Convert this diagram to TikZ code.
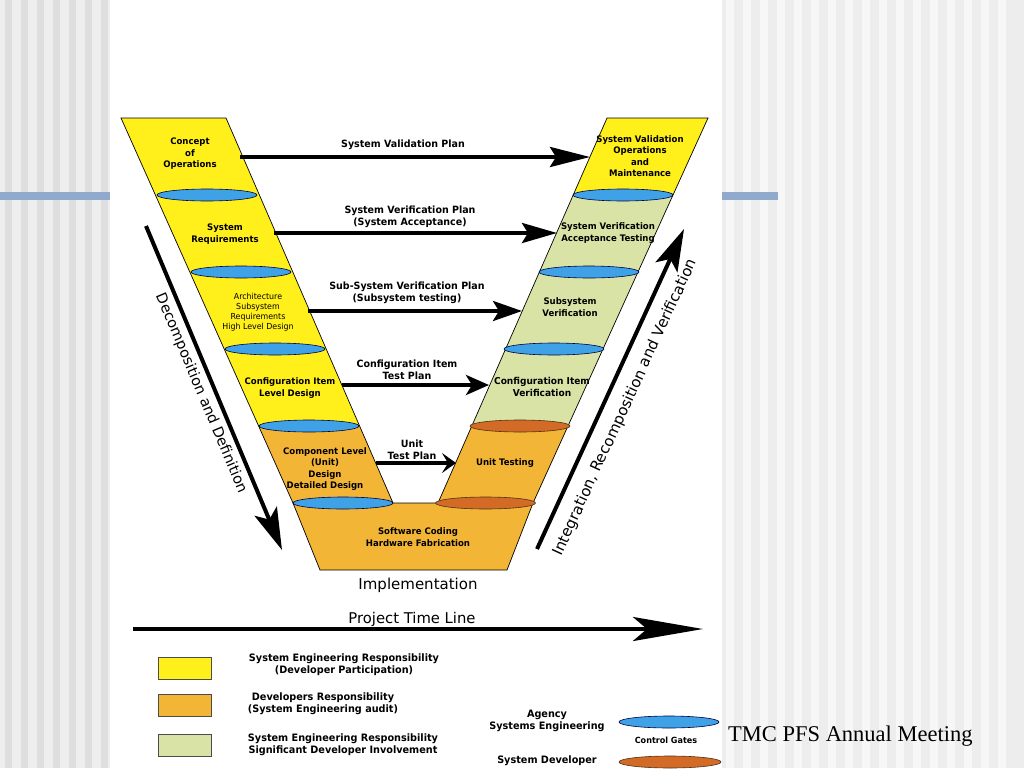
\documentclass[tikz,border=0pt]{standalone}
\usepackage{fontspec}
\setmainfont{Liberation Serif}
\setsansfont{DejaVu Sans}
\newfontfamily\labfont[FakeStretch=0.95]{DejaVu Sans}
\usetikzlibrary{arrows.meta}
\definecolor{vyellow}{HTML}{FFEF1A}
\definecolor{vorange}{HTML}{F2B535}
\definecolor{vgreen}{HTML}{D8E3A5}
\definecolor{gateblue}{HTML}{3FA2E6}
\definecolor{gatebrown}{HTML}{D36A25}
\definecolor{barblue}{HTML}{8FAACC}
\definecolor{stripedark}{HTML}{DEDEDE}
\definecolor{stripelight}{HTML}{EEEEEE}

\begin{document}
\begin{tikzpicture}[x=1pt,y=-1pt,
every node/.style={font=\labfont\bfseries\fontsize{9}{11.5}\selectfont, align=center, inner sep=1pt},
plantext/.style={font=\labfont\bfseries\fontsize{10}{12.5}\selectfont},
keytext/.style={font=\labfont\bfseries\fontsize{10.2}{12}\selectfont},
gate/.style={draw=black!75!blue, line width=0.6pt, fill=gateblue},
devgate/.style={draw=black!60!brown, line width=0.6pt, fill=gatebrown},
arm/.style={draw=black, line width=0.7pt},
plan/.style={line width=4pt, -{Stealth[length=#1,width=20pt,inset=6pt]}},
bigarrow/.style={line width=4pt, -{Stealth[length=42pt,width=24pt,inset=9pt]}},
side/.style={font=\sffamily\fontsize{#1}{16}\selectfont, sloped},
key/.style={draw=black!70, line width=0.8pt, minimum width=53pt, minimum height=22pt, inner sep=0pt}]
\useasboundingbox (0,0) rectangle (1024,768);
\fill[stripelight] (0,0) rectangle (110,768);
\foreach \x in {0,16,...,96} \fill[stripedark] (\x+5,0) rectangle (\x+12,768);
\fill[white!93!black] (722,0) rectangle (1024,768);
\foreach \x in {722,739,...,1010} \fill[white!97!black] (\x+4,0) rectangle (\x+12,768);
\fill[white] (110,0) rectangle (722,768);
\fill[barblue] (0,192) rectangle (110,200);
\fill[barblue] (722,192) rectangle (778,200);

\begin{scope}
\clip (121,118) -- (226,118) -- (393,503) -- (293,503) -- cycle;
\fill[vyellow] (100,110) rectangle (420,426);
\fill[vorange] (100,426) rectangle (420,510);
\end{scope}
\draw[arm] (121,118) -- (226,118) -- (393,503) -- (293,503) -- cycle;
\begin{scope}
\clip (607,118) -- (708,118) -- (533,503) -- (438,503) -- cycle;
\fill[vyellow] (430,110) rectangle (720,195);
\fill[vgreen] (430,195) rectangle (720,426);
\fill[vorange] (430,426) rectangle (720,510);
\end{scope}
\draw[arm] (607,118) -- (708,118) -- (533,503) -- (438,503) -- cycle;
\draw[arm, fill=vorange] (293,503) -- (533,503) -- (507,570) -- (320,570) -- cycle;

\foreach \x/\y in {207/195, 241/272, 275/349, 309/426, 343/503, 623/195, 589/272, 554/349}
  \draw[gate] (\x,\y) ellipse [x radius=50pt, y radius=6pt];
\foreach \x/\y in {520/426, 485.5/503}
  \draw[devgate] (\x,\y) ellipse [x radius=50pt, y radius=6pt];

\node (conops) at (190,154) {Concept\\of\\Operations};
\node (sysreq) at (225,234) {System\\Requirements};
\node[font=\labfont\fontsize{8.3}{10}\selectfont] (arch) at (258,312) {Architecture\\Subsystem\\Requirements\\High Level Design};
\node (cidesign) at (290,388) {Configuration Item\\Level Design};
\node (unitdesign) at (325,469) {Component Level\\(Unit)\\Design\\Detailed Design};
\node (coding) at (418,537) {Software Coding\\Hardware Fabrication};
\node (unittest) at (505,463) {Unit Testing};
\node[font=\labfont\bfseries\fontsize{9.5}{11.5}\selectfont] (civerif) at (542,387) {Configuration Item\\Verification};
\node (subverif) at (570,307) {Subsystem\\Verification};
\node (sysverif) at (608,233) {System Verification\\Acceptance Testing};
\node (sysvalid) at (640,156) {System Validation\\Operations\\and\\Maintenance};

\coordinate (a1) at (240,157); \coordinate (b1) at (590,157);
\coordinate (a2) at (274,233); \coordinate (b2) at (557,233);
\coordinate (a3) at (308,311); \coordinate (b3) at (522,311);
\coordinate (a4) at (342,385); \coordinate (b4) at (489,385);
\coordinate (a5) at (376,463); \coordinate (b5) at (456,463);
\draw[plan=40pt] (a1) -- (b1);
\draw[plan=35pt] (a2) -- (b2);
\draw[plan=29pt] (a3) -- (b3);
\draw[plan=23pt] (a4) -- (b4);
\draw[plan=14pt] (a5) -- (b5);
\node[plantext] (valplan) at (403,145) {System Validation Plan};
\node[plantext] (verplan) at (410,217) {System Verification Plan\\(System Acceptance)};
\node[plantext] (subplan) at (407,293) {Sub-System Verification Plan\\(Subsystem testing)};
\node[plantext] (ciplan) at (407,370) {Configuration Item\\Test Plan};
\node[plantext] (unitplan) at (412,450) {Unit\\Test Plan};

\coordinate (d0) at (146,226); \coordinate (d1) at (282,550);
\draw[bigarrow] (d0) -- (d1) node[side=14.5, midway, below=4pt] (decomp) {Decomposition and Definition};
\coordinate (i0) at (537,549); \coordinate (i1) at (684,229);
\draw[bigarrow] (i0) -- (i1) node[side=15, pos=0.47, below=11pt] (integ) {Integration, Recomposition and Verification};

\node[font=\sffamily\fontsize{15}{17}\selectfont] (impl) at (418,585) {Implementation};
\node[font=\sffamily\fontsize{14.8}{17}\selectfont] (timeline) at (412,619) {Project Time Line};
\coordinate (t0) at (133,629); \coordinate (t1) at (703,629);
\draw[line width=4.5pt, -{Stealth[length=70pt,width=24pt,inset=14pt]}] (t0) -- (t1);

\node[key, fill=vyellow] (kyellow) at (184.5,668) {};
\node[key, fill=vorange] (korange) at (184.5,705.5) {};
\node[key, fill=vgreen] (kgreen) at (184.5,745.5) {};
\node[keytext] (tyellow) at (344,665) {System Engineering Responsibility\\(Developer Participation)};
\node[keytext] (torange) at (323,704) {Developers Responsibility\\(System Engineering audit)};
\node[keytext] (tgreen) at (343,745) {System Engineering Responsibility\\Significant Developer Involvement};
\node[keytext] (agency) at (547,721) {Agency\\Systems Engineering};
\node[keytext] (developer) at (547,761) {System Developer};
\draw[gate] (669,722) ellipse [x radius=50pt, y radius=6pt];
\draw[devgate] (670,762) ellipse [x radius=51pt, y radius=6pt];
\node[font=\labfont\bfseries\fontsize{8.5}{10}\selectfont] (gates) at (666,740) {Control Gates};
\node[font=\rmfamily\fontsize{22.5}{26}\selectfont, anchor=base west] (meeting) at (727,741) {TMC PFS Annual Meeting};
\end{tikzpicture}
\end{document}
